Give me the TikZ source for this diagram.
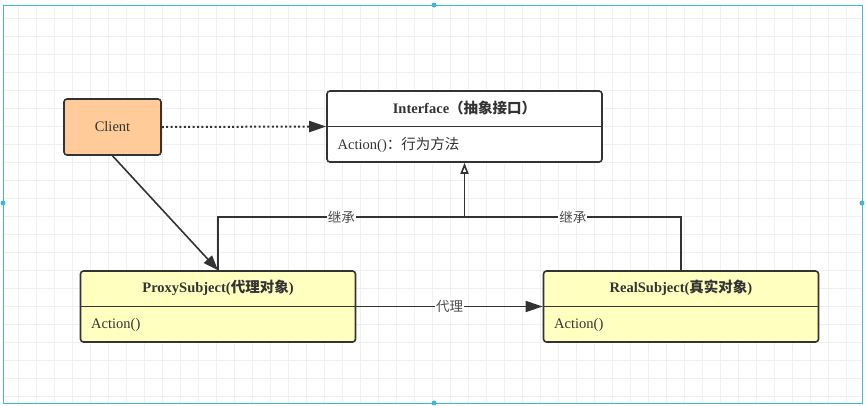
\documentclass[tikz,border=0pt]{standalone}
\usepackage{fontspec}
\setmainfont{Liberation Serif}
\newfontfamily\cjk{Noto Sans CJK SC}
\usetikzlibrary{arrows.meta}

\definecolor{clientfill}{HTML}{FFCC99}
\definecolor{subjfill}{HTML}{FFFFC0}
\definecolor{selcolor}{HTML}{3FB8D4}

\begin{document}
\begin{tikzpicture}[x=1pt,y=-1pt]
\tikzstyle{every node}=[font=\fontsize{14.5}{17}\selectfont, text=black!80]
\tikzstyle{umlbox}=[draw=black!80, line width=1.6pt, rounded corners=3pt, minimum width=275pt, minimum height=71pt]
\tikzstyle{title}=[font=\fontsize{14.5}{17}\selectfont\bfseries]
\tikzstyle{line}=[draw=black!80, line width=1.6pt]
\tikzstyle{tag}=[fill=white, inner sep=1pt, font=\cjk\fontsize{13.5}{16}\selectfont, text=black!70]
\useasboundingbox (0,0) rectangle (866,405);
% canvas
\draw[step=18pt, black!6, line width=0.5pt] (3,5) grid (862,403);
\draw[selcolor, line width=1pt] (3,5) rectangle (862,403);
\foreach \p in {(434,5),(3,203),(434,403),(862,203)}
  \fill[selcolor] \p circle (2.5pt);
% classes
\draw (112.5,127) node (client) [draw=black!80, line width=1.6pt, fill=clientfill, rounded corners=3pt, minimum width=97pt, minimum height=56pt] {Client};
\draw (464.5,126.5) node (iface) [umlbox, fill=white] {};
\draw (218,306.5) node (proxy) [umlbox, fill=subjfill] {};
\draw (681,306.5) node (real) [umlbox, fill=subjfill] {};
\draw[line] (iface.west) -- (iface.east);
\draw[line] (proxy.west) -- (proxy.east);
\draw[line] (real.west) -- (real.east);
\node (ifacetitle) [title] at ([yshift=-18pt]iface.north) {Interface{\cjk（抽象接口）}};
\node (ifaceop) [anchor=west] at ([xshift=8pt,yshift=18pt]iface.south west) {Action(){\cjk：行为方法}};
\node (proxytitle) [title] at ([yshift=-18pt]proxy.north) {ProxySubject({\cjk 代理对象})};
\node (proxyop) [anchor=west] at ([xshift=8pt,yshift=18pt]proxy.south west) {Action()};
\node (realtitle) [title] at ([yshift=-18pt]real.north) {RealSubject({\cjk 真实对象})};
\node (realop) [anchor=west] at ([xshift=8pt,yshift=18pt]real.south west) {Action()};
% connectors
\coordinate (join) at (iface.south |- 0,217);
\draw[line, line width=2pt, dash pattern=on 2pt off 2.4pt, -{Triangle[length=17pt,width=11pt]}] (client.east) -- (iface.west);
\draw[line, -{Triangle[length=15pt,width=11pt]}] (client.south) -- (proxy.north);
\draw[line] (proxy.north) |- (join) node[tag, pos=0.75] {继承};
\draw[line] (real.north) |- (join) node[tag, pos=0.75] {继承};
\draw[line, -{Triangle[open,length=11pt,width=8pt]}] (join) -- (iface.south);
\draw[line, -{Triangle[length=17pt,width=11pt]}] (proxy.east) -- (real.west) node[tag, midway] {代理};
\end{tikzpicture}
\end{document}
